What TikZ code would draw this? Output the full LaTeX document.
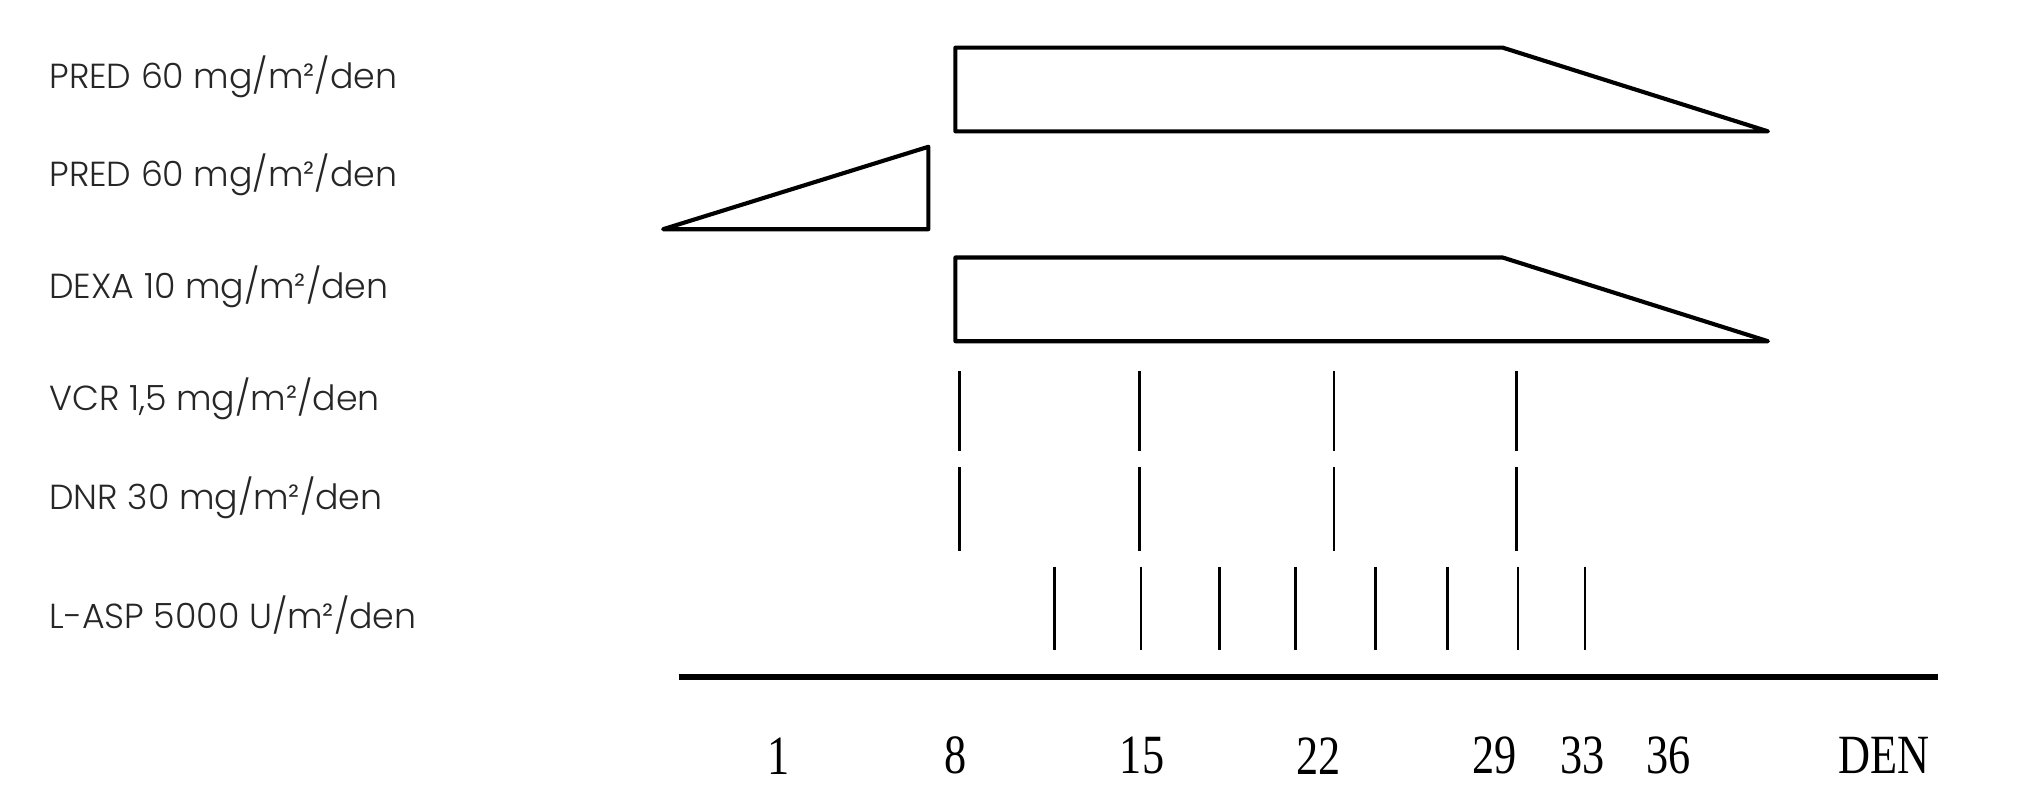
\documentclass[tikz,border=0pt]{standalone}
\usepackage{fontspec}
\newfontfamily\lblfont{Poppins Light}
\newfontfamily\dayfont{Liberation Serif}
\begin{document}
\begin{tikzpicture}[x=0.5pt,y=0.5pt,
  shapeline/.style={line width=1.6pt,line join=round},
  tick/.style={line width=1.05pt},
  axisline/.style={line width=2.2pt},
  drug/.style={anchor=west,inner sep=0pt,font=\lblfont\fontsize{13.5}{16}\selectfont,text=black!85},
  day/.style={inner sep=0pt,font=\dayfont\fontsize{21.5}{24}\selectfont,xscale=0.8}]
\useasboundingbox (0,0) rectangle (1568,621);
% labels
\node[drug] (l1) at (38,621-60) {PRED 60 mg/m²/den};
\node[drug] (l2) at (38,621-136) {PRED 60 mg/m²/den};
\node[drug] (l3) at (38,621-223) {DEXA 10 mg/m²/den};
\node[drug] (l4) at (38,621-310) {VCR 1,5 mg/m²/den};
\node[drug] (l5) at (38,621-387) {DNR 30 mg/m²/den};
\node[drug] (l6) at (38,621-478) {L-ASP 5000 U/m²/den};
% PRED trapezoid
\draw[shapeline] (742,621-37) -- (1167,621-37) -- (1373,621-102) -- (742,621-102) -- cycle;
% PRED triangle
\draw[shapeline] (515,621-178) -- (721,621-114) -- (721,621-178) -- cycle;
% DEXA trapezoid
\draw[shapeline] (742,621-200) -- (1167,621-200) -- (1373,621-265) -- (742,621-265) -- cycle;
% VCR & DNR ticks
\foreach \x in {745,885,1036,1178}{
  \draw[tick] (\x,621-288) -- (\x,621-350);
  \draw[tick] (\x,621-363) -- (\x,621-428);
}
% L-ASP ticks
\foreach \x in {819,886,947,1006,1068,1124,1179,1231}{
  \draw[tick] (\x,621-440) -- (\x,621-505);
}
% axis
\coordinate (a0) at (527,621-526);
\coordinate (a1) at (1505,621-526);
\draw[axisline] (a0) -- (a1);
% day labels
\node[day] (d1) at (605,621-587) {1};
\node[day] (d8) at (742,621-587) {8};
\node[day] (d15) at (887,621-587) {15};
\node[day] (d22) at (1024,621-587) {22};
\node[day] (d29) at (1161,621-587) {29};
\node[day] (d33) at (1229,621-587) {33};
\node[day] (d36) at (1296,621-587) {36};
\node[day] (dden) at (1463,621-587) {DEN};
\end{tikzpicture}
\end{document}
